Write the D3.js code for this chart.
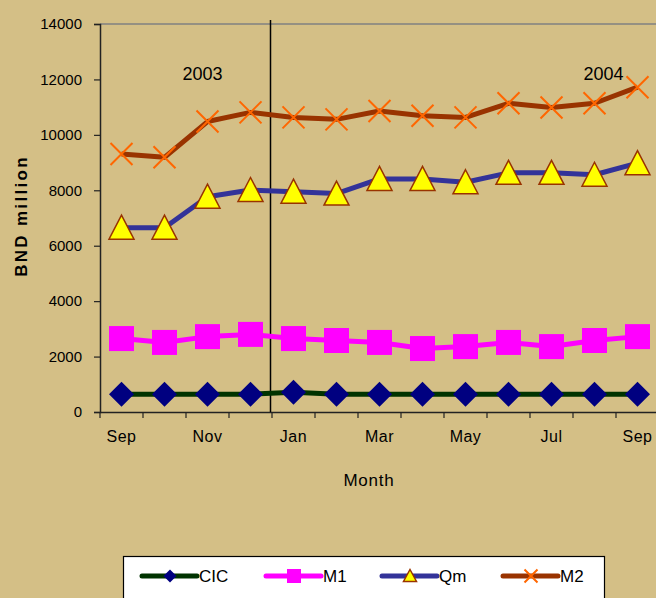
<!DOCTYPE html>
<html>
<head>
<meta charset="utf-8">
<script src="https://cdn.jsdelivr.net/npm/d3@7"></script>
<style>
  body { margin: 0; background: #D4BF86; }
  svg { display: block; font-family: Arial, "Liberation Sans", sans-serif; }
</style>
</head>
<body>
<svg width="656" height="598"></svg>
<script>
// months, Sep 2003 .. Sep 2004
var months = ["Sep", "Oct", "Nov", "Dec", "Jan", "Feb", "Mar", "Apr", "May", "Jun", "Jul", "Aug", "Sep"];
var cic = [640, 640, 640, 640, 710, 640, 640, 640, 640, 640, 640, 640, 640];
var m1  = [2650, 2510, 2720, 2800, 2650, 2580, 2510, 2290, 2360, 2510, 2360, 2580, 2720];
var qm  = [6650, 6650, 7770, 8010, 7950, 7880, 8410, 8410, 8290, 8630, 8630, 8560, 8980];
var m2  = [9310, 9190, 10480, 10810, 10630, 10560, 10860, 10690, 10630, 11140, 10990, 11140, 11720];
var yTicks = [0, 2000, 4000, 6000, 8000, 10000, 12000, 14000];
var years = ["2003", "2004"];
var legendNames = ["CIC", "M1", "Qm", "M2"];

var svg = d3.select("svg");

var plotLeft = 100, plotRight = 659, plotTop = 24, plotBottom = 412;

var x = d3.scaleBand()
    .domain(d3.range(months.length))
    .range([plotLeft, plotRight])
    .padding(0);

var y = d3.scaleLinear()
    .domain([0, 14000])
    .range([plotBottom, plotTop]);

function cx(i) { return x(i) + x.bandwidth() / 2; }

// plot frame top border
svg.append("line")
    .attr("x1", plotLeft).attr("x2", plotRight)
    .attr("y1", plotTop).attr("y2", plotTop)
    .style("stroke", "#808080")
    .style("stroke-width", 1.5);

////////////////
// y axis
////////////////
var yAxis = svg.append("g")
    .attr("transform", "translate(" + plotLeft + ",0)")
    .call(d3.axisLeft(y).tickValues(yTicks).tickSize(6).tickPadding(12).tickFormat(d3.format("d")));
yAxis.select(".domain").style("stroke", "#222").style("stroke-width", 1.5);
yAxis.selectAll(".tick line").style("stroke", "#222").style("stroke-width", 1.2);
yAxis.selectAll("text").style("font-size", "15px").style("fill", "#000");

////////////////
// x axis
////////////////
var xAxis = svg.append("g")
    .attr("transform", "translate(0," + plotBottom + ")")
    .call(d3.axisBottom(x).tickSize(0).tickPadding(19)
        .tickFormat(function(d, i) { return i % 2 == 0 ? months[i] : ""; }));
xAxis.select(".domain").style("stroke", "#222").style("stroke-width", 1.5);
xAxis.selectAll("text").style("font-size", "16px").style("fill", "#000").style("letter-spacing", "0.5px");

// category boundary ticks
svg.append("g").selectAll("line")
    .data(d3.range(months.length + 1))
    .enter().append("line")
    .attr("x1", function(d) { return d < months.length ? x(d) : plotRight; })
    .attr("x2", function(d) { return d < months.length ? x(d) : plotRight; })
    .attr("y1", plotBottom).attr("y2", plotBottom + 6)
    .style("stroke", "#222")
    .style("stroke-width", 1.2);

// axis titles
svg.append("text")
    .attr("transform", "translate(27,216) rotate(-90)")
    .attr("text-anchor", "middle")
    .style("font-size", "17px")
    .style("font-weight", "bold")
    .style("letter-spacing", "2.3px")
    .text("BND million");

svg.append("text")
    .attr("x", 369).attr("y", 486)
    .attr("text-anchor", "middle")
    .style("font-size", "17px")
    .style("letter-spacing", "0.8px")
    .text("Month");

// year divider between Dec and Jan
svg.append("line")
    .attr("x1", x(4) - 1.5).attr("x2", x(4) - 1.5)
    .attr("y1", 20).attr("y2", plotBottom)
    .style("stroke", "#000")
    .style("stroke-width", 1.5);

svg.append("text")
    .attr("x", cx(2) - 5).attr("y", 80)
    .attr("text-anchor", "middle")
    .style("font-size", "18px")
    .text(years[0]);
svg.append("text")
    .attr("x", cx(11) + 9).attr("y", 80)
    .attr("text-anchor", "middle")
    .style("font-size", "18px")
    .text(years[1]);

////////////////
// series
////////////////
var line = d3.line()
    .x(function(d, i) { return cx(i); })
    .y(function(d) { return y(d); });

var series = [
    { values: cic, line: "#003300", marker: "diamond" },
    { values: m1,  line: "#FF00FF", marker: "square" },
    { values: qm,  line: "#333399", marker: "triangle" },
    { values: m2,  line: "#993300", marker: "cross" }
];

function drawMarker(g, type, size) {
    var h = size / 2;
    if (type == "diamond") {
        g.append("path").attr("d", "M0," + (-h) + "L" + h + ",0L0," + h + "L" + (-h) + ",0Z")
            .style("fill", "#000080");
    } else if (type == "square") {
        g.append("rect").attr("x", -h).attr("y", -h).attr("width", size).attr("height", size)
            .style("fill", "#FF00FF");
    } else if (type == "triangle") {
        g.append("path").attr("d", "M0," + (-h) + "L" + h + "," + (h - 1) + "L" + (-h) + "," + (h - 1) + "Z")
            .style("fill", "#FFFF00").style("stroke", "#993300").style("stroke-width", 1.5);
    } else {
        g.append("path").attr("d", "M" + (-h) + "," + (-h) + "L" + h + "," + h + "M" + (-h) + "," + h + "L" + h + "," + (-h))
            .style("stroke", "#FF6600").style("stroke-width", 2);
    }
}

series.forEach(function(s) {
    svg.append("path")
        .datum(s.values)
        .attr("d", line)
        .style("fill", "none")
        .style("stroke", s.line)
        .style("stroke-width", 5)
        .style("stroke-linejoin", "round");

    svg.append("g").selectAll("g")
        .data(s.values)
        .enter().append("g")
        .attr("transform", function(d, i) { return "translate(" + cx(i) + "," + y(d) + ")"; })
        .each(function() { drawMarker(d3.select(this), s.marker, s.marker == "cross" ? 22 : 25); });
});

////////////////
// legend
////////////////
var legend = svg.append("g");
legend.append("rect")
    .attr("x", 123.5).attr("y", 556.5)
    .attr("width", 481).attr("height", 50)
    .style("fill", "#fff")
    .style("stroke", "#000")
    .style("stroke-width", 1.2);

var legendX = [142, 266, 382, 503];
legendNames.forEach(function(name, i) {
    var g = legend.append("g").attr("transform", "translate(" + legendX[i] + ",576)");
    g.append("line").attr("x1", 0).attr("x2", 55).attr("y1", 0).attr("y2", 0)
        .style("stroke", series[i].line).style("stroke-width", 5).style("stroke-linecap", "round");
    var m = g.append("g").attr("transform", "translate(28,0)");
    drawMarker(m, series[i].marker, series[i].marker == "square" ? 14 : 13);
    g.append("text").attr("x", 57).attr("y", 6)
        .style("font-size", "17px")
        .text(name);
});
</script>
</body>
</html>
